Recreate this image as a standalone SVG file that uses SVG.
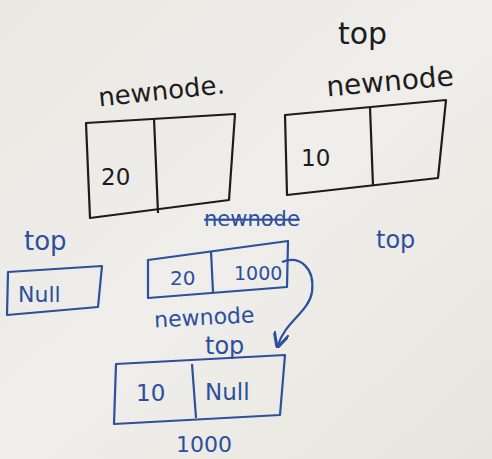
<svg xmlns="http://www.w3.org/2000/svg" width="492" height="459" viewBox="0 0 492 459">
<defs>
<linearGradient id="bg" x1="0" y1="0" x2="1" y2="1">
<stop offset="0" stop-color="#e9e8e3"/>
<stop offset="0.5" stop-color="#efeeea"/>
<stop offset="1" stop-color="#e6e5df"/>
</linearGradient>
<marker id="arr" viewBox="0 0 10 10" refX="8" refY="5" markerWidth="7" markerHeight="7" orient="auto">
<path d="M0,0 L10,5 L0,10" fill="none" stroke="#2d4f9e" stroke-width="2"/>
</marker>
</defs>
<style>
.k{fill:none;stroke:#1c1c1c;stroke-width:2.2;stroke-linejoin:round}
.b{fill:none;stroke:#2d4f9e;stroke-width:2.2;stroke-linejoin:round}
.tk{font-family:"DejaVu Sans",sans-serif;fill:#1c1c1c}
.tb{font-family:"DejaVu Sans",sans-serif;fill:#2d4f9e}
</style>
<rect width="492" height="459" fill="url(#bg)"/>

<g id="label-top-black">
<text class="tk" x="338" y="44" font-size="30">top</text>
</g>
<g id="label-newnode1">
<text class="tk" x="98" y="100" font-size="26" transform="rotate(-6 160 92)">newnode.</text>
</g>
<g id="label-newnode2">
<text class="tk" x="326" y="90" font-size="28" transform="rotate(-5 400 80)">newnode</text>
</g>

<g id="node-20">
<polygon class="k" points="86,123 235,114 229,200 90,218"/>
<line class="k" x1="154" y1="118" x2="158" y2="213"/>
<text class="tk" x="101" y="185" font-size="23">20</text>
</g>
<g id="node-10">
<polygon class="k" points="285,115 446,100 438,178 287,195"/>
<line class="k" x1="370" y1="107" x2="373" y2="186"/>
<text class="tk" x="301" y="166" font-size="23">10</text>
</g>

<g id="label-top-blue1">
<text class="tb" x="24" y="250" font-size="26">top</text>
</g>
<g id="label-newnode-struck">
<text class="tb" x="204" y="226" font-size="21" text-decoration="line-through">newnode</text>
</g>
<g id="label-top-blue2">
<text class="tb" x="376" y="248" font-size="24">top</text>
</g>

<g id="node-null">
<polygon class="b" points="8,272 102,266 98,307 7,315"/>
<text class="tb" x="18" y="302" font-size="22">Null</text>
</g>
<g id="node-20-1000">
<polygon class="b" points="148,260 288,241 287,287 148,298"/>
<line class="b" x1="211" y1="251" x2="213" y2="292"/>
<text class="tb" x="170" y="285" font-size="20">20</text>
<text class="tb" x="234" y="280" font-size="19">1000</text>
</g>
<g id="label-newnode-blue">
<text class="tb" x="154" y="324" font-size="22" transform="rotate(-3 220 315)">newnode</text>
</g>
<g id="label-top-blue3">
<text class="tb" x="205" y="354" font-size="24">top</text>
</g>

<g id="node-10-null">
<polygon class="b" points="116,364 285,355 280,415 114,424"/>
<line class="b" x1="192" y1="364" x2="196" y2="418"/>
<text class="tb" x="136" y="401" font-size="23">10</text>
<text class="tb" x="205" y="400" font-size="23">Null</text>
</g>
<g id="label-1000">
<text class="tb" x="176" y="452" font-size="22">1000</text>
</g>

<g id="connectors">
<path class="b" d="M282,262 C300,255 315,268 312,292 C309,312 285,322 278,345" marker-end="url(#arr)"/>
</g>
</svg>
